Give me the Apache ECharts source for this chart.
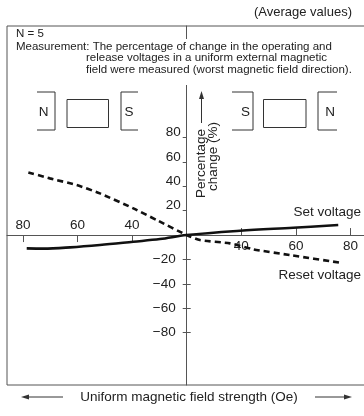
<!DOCTYPE html>
<html>
<head>
<meta charset="utf-8">
<script src="https://cdn.jsdelivr.net/npm/echarts@6/dist/echarts.min.js"></script>
<style>html,body{margin:0;padding:0;background:#fff;}#c{width:364px;height:416px;}</style>
</head>
<body>
<div id="c"></div>
<script>
// ---- data (field strength in Oe, change in %) ----
const setOe      = [-78.6, -72.5, -62.7, -51.8, -39.1, -19.6, 0, 39.0, 59.0, 75.5];
const setChange  = [-10.9, -11.1, -10.1, -8.2, -5.5, -3.3, 0, 3.5, 6.0, 8.2];
const resetOe     = [-78.0, -70.1, -60.3, -51.8, -39.1, -22.0, 0, 9.7, 31.7, 44.4, 57.8, 76.2];
const resetChange = [51.4, 46.5, 41.0, 34.2, 21.9, 12.3, 0, -4.1, -6.8, -11.7, -16.4, -22.7];
const xTickOe = [40, 60, 80];
const yTicks = [-80, -60, -40, -20, 20, 40, 60, 80];

// The printed field axis spaces 0, 40, 60, 80 Oe evenly: map Oe to axis position.
function oeToPos(oe) {
  const a = Math.abs(oe), s = oe < 0 ? -1 : 1;
  return s * (a <= 40 ? a / 40 : 1 + (a - 40) / 20);
}
function posToOe(p) {
  const a = Math.abs(p);
  return a <= 1 ? a * 40 : 40 + (a - 1) * 20;
}
const xPosRight = xTickOe.map(oeToPos);
const xPosLeft = xTickOe.map(v => oeToPos(-v));

const FONT = 'Liberation Sans, Arial, Helvetica, sans-serif';
const INK = '#222';
const LINE = '#555';

// layout of the plot box (pixels)
const G = {left: 7, top: 26, right: -1, bottom: 31};
const X_MIN = -3.291, X_MAX = 3.265, Y_MIN = -123, Y_MAX = 171.5;
const W = 364, H = 416;
const gw = W - G.left - G.right, gh = H - G.top - G.bottom;
const zeroX = G.left + (0 - X_MIN) / (X_MAX - X_MIN) * gw;
const zeroY = G.top + (Y_MAX - 0) / (Y_MAX - Y_MIN) * gh;

const chart = echarts.init(document.getElementById('c'), null, {renderer: 'canvas'});
const fmtY = v => v > 0 ? '{p|' + v + '}' : '{n|\u2212' + Math.abs(v) + '}';
const txt = (x, y, text, size, extra) => ({type: 'text', x: x, y: y, z: 101,
  style: Object.assign({text: text, font: size + 'px ' + FONT, fill: INK, textVerticalAlign: 'middle'}, extra || {})});

chart.setOption({
  animation: false,
  backgroundColor: '#fff',
  grid: Object.assign({show: true, borderColor: LINE, borderWidth: 1, containLabel: false, outerBoundsMode: 'none'}, G),
  xAxis: [
    {type: 'value', min: X_MIN, max: X_MAX, position: 'bottom', offset: -(G.top + gh - zeroY),
     axisLine: {onZero: false, lineStyle: {color: LINE, width: 1}},
     splitLine: {show: false},
     axisTick: {show: true, inside: true, length: 7, customValues: xPosRight, lineStyle: {color: LINE}},
     axisLabel: {show: true, customValues: xPosRight, margin: 4, color: INK, fontFamily: FONT, fontSize: 13.5,
                 formatter: v => String(posToOe(v))}},
    {type: 'value', min: X_MIN, max: X_MAX, position: 'top', offset: -(zeroY - G.top),
     axisLine: {show: false, onZero: false},
     splitLine: {show: false},
     axisTick: {show: true, inside: true, length: 7, customValues: xPosLeft, lineStyle: {color: LINE}},
     axisLabel: {show: true, customValues: xPosLeft, margin: 3, color: INK, fontFamily: FONT, fontSize: 13.5,
                 formatter: v => String(posToOe(v))}}
  ],
  yAxis: [
    {type: 'value', min: Y_MIN, max: Y_MAX, position: 'left', offset: -(zeroX - G.left),
     axisLine: {onZero: false, lineStyle: {color: LINE, width: 1}},
     splitLine: {show: false},
     axisTick: {show: true, length: 4, customValues: yTicks, lineStyle: {color: LINE}},
     axisLabel: {show: true, customValues: yTicks, margin: 6, color: INK, fontFamily: FONT, fontSize: 13.5,
                 formatter: fmtY,
                 rich: {p: {fontFamily: FONT, fontSize: 13.5, color: INK, padding: [0, 0, 10, 0]},
                        n: {fontFamily: FONT, fontSize: 13.5, color: INK, padding: [0, 5, 0, 0]}}}},
    {type: 'value', min: Y_MIN, max: Y_MAX, position: 'right', offset: -(G.left + gw - zeroX),
     axisLine: {show: false, onZero: false},
     splitLine: {show: false},
     axisTick: {show: true, length: 4, customValues: yTicks.filter(v => v < 0), lineStyle: {color: LINE}},
     axisLabel: {show: false}}
  ],
  series: [
    {name: 'Set voltage', type: 'line', xAxisIndex: 0, yAxisIndex: 0, smooth: 0.35, symbol: 'none',
     lineStyle: {color: '#111', width: 2.6},
     data: setOe.map((x, i) => [oeToPos(x), setChange[i]])},
    {name: 'Reset voltage', type: 'line', xAxisIndex: 0, yAxisIndex: 0, smooth: 0.2, symbol: 'none',
     lineStyle: {color: '#111', width: 2.6, type: [6, 4]},
     data: resetOe.map((x, i) => [oeToPos(x), resetChange[i]])}
  ],
  graphic: [
    // white band behind the description text (hides the axis line there)
    {type: 'rect', z: 100, shape: {x: zeroX - 6, y: 39, width: 12, height: 46}, style: {fill: '#fff'}},
    {type: 'text', right: 12, top: 6, z: 101, style: {text: '(Average values)', font: '13px ' + FONT, fill: INK}},
    txt(16, 33.5, 'N = 5', 11.5),
    txt(16, 46.5, 'Measurement: The percentage of change in the operating and', 11.5),
    txt(86, 58.3, 'release voltages in a uniform external magnetic', 11.5),
    txt(86, 70, 'field were measured (worst magnetic field direction).', 11.5),
    // magnets, left
    {type: 'polyline', shape: {points: [[37, 92], [55, 92], [55, 130], [37, 130]]}, style: {stroke: '#333', lineWidth: 1, fill: null}},
    txt(43.5, 112, 'N', 13.5, {textAlign: 'center'}),
    {type: 'rect', shape: {x: 67, y: 99.5, width: 41.5, height: 28}, style: {stroke: '#333', lineWidth: 1, fill: '#fff'}},
    {type: 'polyline', shape: {points: [[138, 92], [121, 92], [121, 130], [138, 130]]}, style: {stroke: '#333', lineWidth: 1, fill: null}},
    txt(129, 112, 'S', 13.5, {textAlign: 'center'}),
    // magnets, right
    {type: 'polyline', shape: {points: [[232, 92], [253, 92], [253, 130], [232, 130]]}, style: {stroke: '#333', lineWidth: 1, fill: null}},
    txt(245.5, 112, 'S', 13.5, {textAlign: 'center'}),
    {type: 'rect', shape: {x: 263.5, y: 99.5, width: 42.5, height: 28}, style: {stroke: '#333', lineWidth: 1, fill: '#fff'}},
    {type: 'polyline', shape: {points: [[337, 92], [318, 92], [318, 130], [337, 130]]}, style: {stroke: '#333', lineWidth: 1, fill: null}},
    txt(330, 112, 'N', 13.5, {textAlign: 'center'}),
    // y-axis title with arrow
    {type: 'line', shape: {x1: 201.5, y1: 123, x2: 201.5, y2: 97}, style: {stroke: '#333', lineWidth: 1}},
    {type: 'polygon', shape: {points: [[201.5, 91], [199, 99], [204, 99]]}, style: {fill: '#333'}},
    {type: 'text', x: 201.5, y: 163.5, rotation: Math.PI / 2, style: {text: 'Percentage', font: '13.5px ' + FONT, fill: INK, textAlign: 'center', textVerticalAlign: 'middle'}},
    {type: 'text', x: 213.5, y: 156.5, rotation: Math.PI / 2, style: {text: 'change (%)', font: '13.5px ' + FONT, fill: INK, textAlign: 'center', textVerticalAlign: 'middle'}},
    // curve labels
    txt(361, 212, 'Set voltage', 13.5, {textAlign: 'right'}),
    txt(361, 275, 'Reset voltage', 13.5, {textAlign: 'right'}),
    // x-axis title with arrows
    txt(189, 397, 'Uniform magnetic field strength (Oe)', 13.5, {textAlign: 'center'}),
    {type: 'line', shape: {x1: 27, y1: 397, x2: 63, y2: 397}, style: {stroke: '#333', lineWidth: 1}},
    {type: 'polygon', shape: {points: [[21, 397], [29, 394.5], [29, 399.5]]}, style: {fill: '#333'}},
    {type: 'line', shape: {x1: 315, y1: 397, x2: 346, y2: 397}, style: {stroke: '#333', lineWidth: 1}},
    {type: 'polygon', shape: {points: [[352, 397], [344, 394.5], [344, 399.5]]}, style: {fill: '#333'}}
  ]
});
</script>
</body>
</html>
